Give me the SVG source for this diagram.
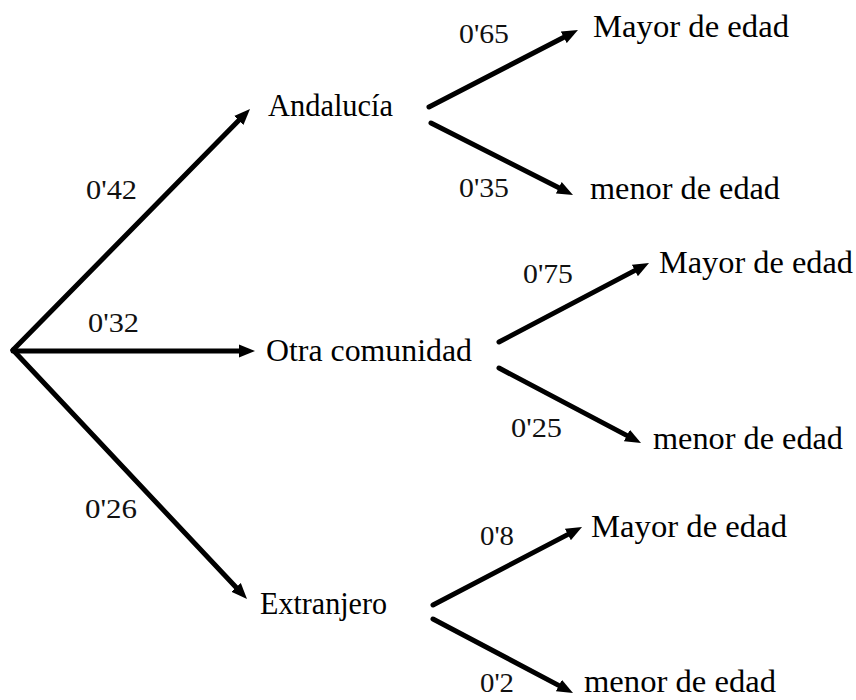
<svg xmlns="http://www.w3.org/2000/svg" width="856" height="700" viewBox="0 0 856 700">
<style>
.bg{fill:#fff}
.edge{stroke:#000;stroke-width:5;fill:none;stroke-linecap:round}
.node{font-family:"Liberation Serif","DejaVu Serif",serif;font-size:31px;fill:#000}
.lbl{font-family:"Liberation Serif","DejaVu Serif",serif;font-size:28px;fill:#111}
</style>
<defs>
<marker id="arr" markerUnits="userSpaceOnUse" viewBox="0 -7 18 14" refX="4" refY="0" markerWidth="18" markerHeight="14" orient="auto">
<path d="M0,-6.5 L16,0 L0,6.5 z" fill="#000"/>
</marker>
</defs>
<rect class="bg" x="0" y="0" width="856" height="700"/>
<g id="connectors">
<line class="edge" x1="13" y1="350" x2="241.6" y2="117.6" marker-end="url(#arr)"/>
<line class="edge" x1="13" y1="351" x2="243" y2="351" marker-end="url(#arr)"/>
<line class="edge" x1="13" y1="350" x2="238.8" y2="590.3" marker-end="url(#arr)"/>
<line class="edge" x1="429" y1="107" x2="567.3" y2="35.5" marker-end="url(#arr)"/>
<line class="edge" x1="431" y1="123" x2="562.3" y2="189.6" marker-end="url(#arr)"/>
<line class="edge" x1="499" y1="342" x2="638.4" y2="268.6" marker-end="url(#arr)"/>
<line class="edge" x1="499" y1="368" x2="630.4" y2="437.4" marker-end="url(#arr)"/>
<line class="edge" x1="433" y1="605" x2="571.4" y2="532.6" marker-end="url(#arr)"/>
<line class="edge" x1="433" y1="619" x2="562.4" y2="687.4" marker-end="url(#arr)"/>
<text class="lbl" x="86" y="199" textLength="51" lengthAdjust="spacingAndGlyphs">0'42</text>
<text class="lbl" x="88" y="332" textLength="51" lengthAdjust="spacingAndGlyphs">0'32</text>
<text class="lbl" x="85" y="518" textLength="52" lengthAdjust="spacingAndGlyphs">0'26</text>
<text class="lbl" x="459" y="43" textLength="50" lengthAdjust="spacingAndGlyphs">0'65</text>
<text class="lbl" x="459" y="197" textLength="50" lengthAdjust="spacingAndGlyphs">0'35</text>
<text class="lbl" x="523" y="283" textLength="50" lengthAdjust="spacingAndGlyphs">0'75</text>
<text class="lbl" x="511" y="437" textLength="51" lengthAdjust="spacingAndGlyphs">0'25</text>
<text class="lbl" x="480" y="545" textLength="34" lengthAdjust="spacingAndGlyphs">0'8</text>
<text class="lbl" x="480" y="692" textLength="34" lengthAdjust="spacingAndGlyphs">0'2</text>
</g>
<g id="andalucia"><text class="node" x="268" y="116" textLength="125" lengthAdjust="spacingAndGlyphs">Andalucía</text></g>
<g id="otra"><text class="node" x="266" y="361" textLength="206" lengthAdjust="spacingAndGlyphs">Otra comunidad</text></g>
<g id="extranjero"><text class="node" x="260" y="614" textLength="127" lengthAdjust="spacingAndGlyphs">Extranjero</text></g>
<g id="and-mayor"><text class="node" x="593" y="37" textLength="196" lengthAdjust="spacingAndGlyphs">Mayor de edad</text></g>
<g id="and-menor"><text class="node" x="590" y="199" textLength="190" lengthAdjust="spacingAndGlyphs">menor de edad</text></g>
<g id="otra-mayor"><text class="node" x="659" y="273" textLength="194" lengthAdjust="spacingAndGlyphs">Mayor de edad</text></g>
<g id="otra-menor"><text class="node" x="653" y="449" textLength="190" lengthAdjust="spacingAndGlyphs">menor de edad</text></g>
<g id="ext-mayor"><text class="node" x="591" y="537" textLength="196" lengthAdjust="spacingAndGlyphs">Mayor de edad</text></g>
<g id="ext-menor"><text class="node" x="584" y="692" textLength="192" lengthAdjust="spacingAndGlyphs">menor de edad</text></g>
</svg>
